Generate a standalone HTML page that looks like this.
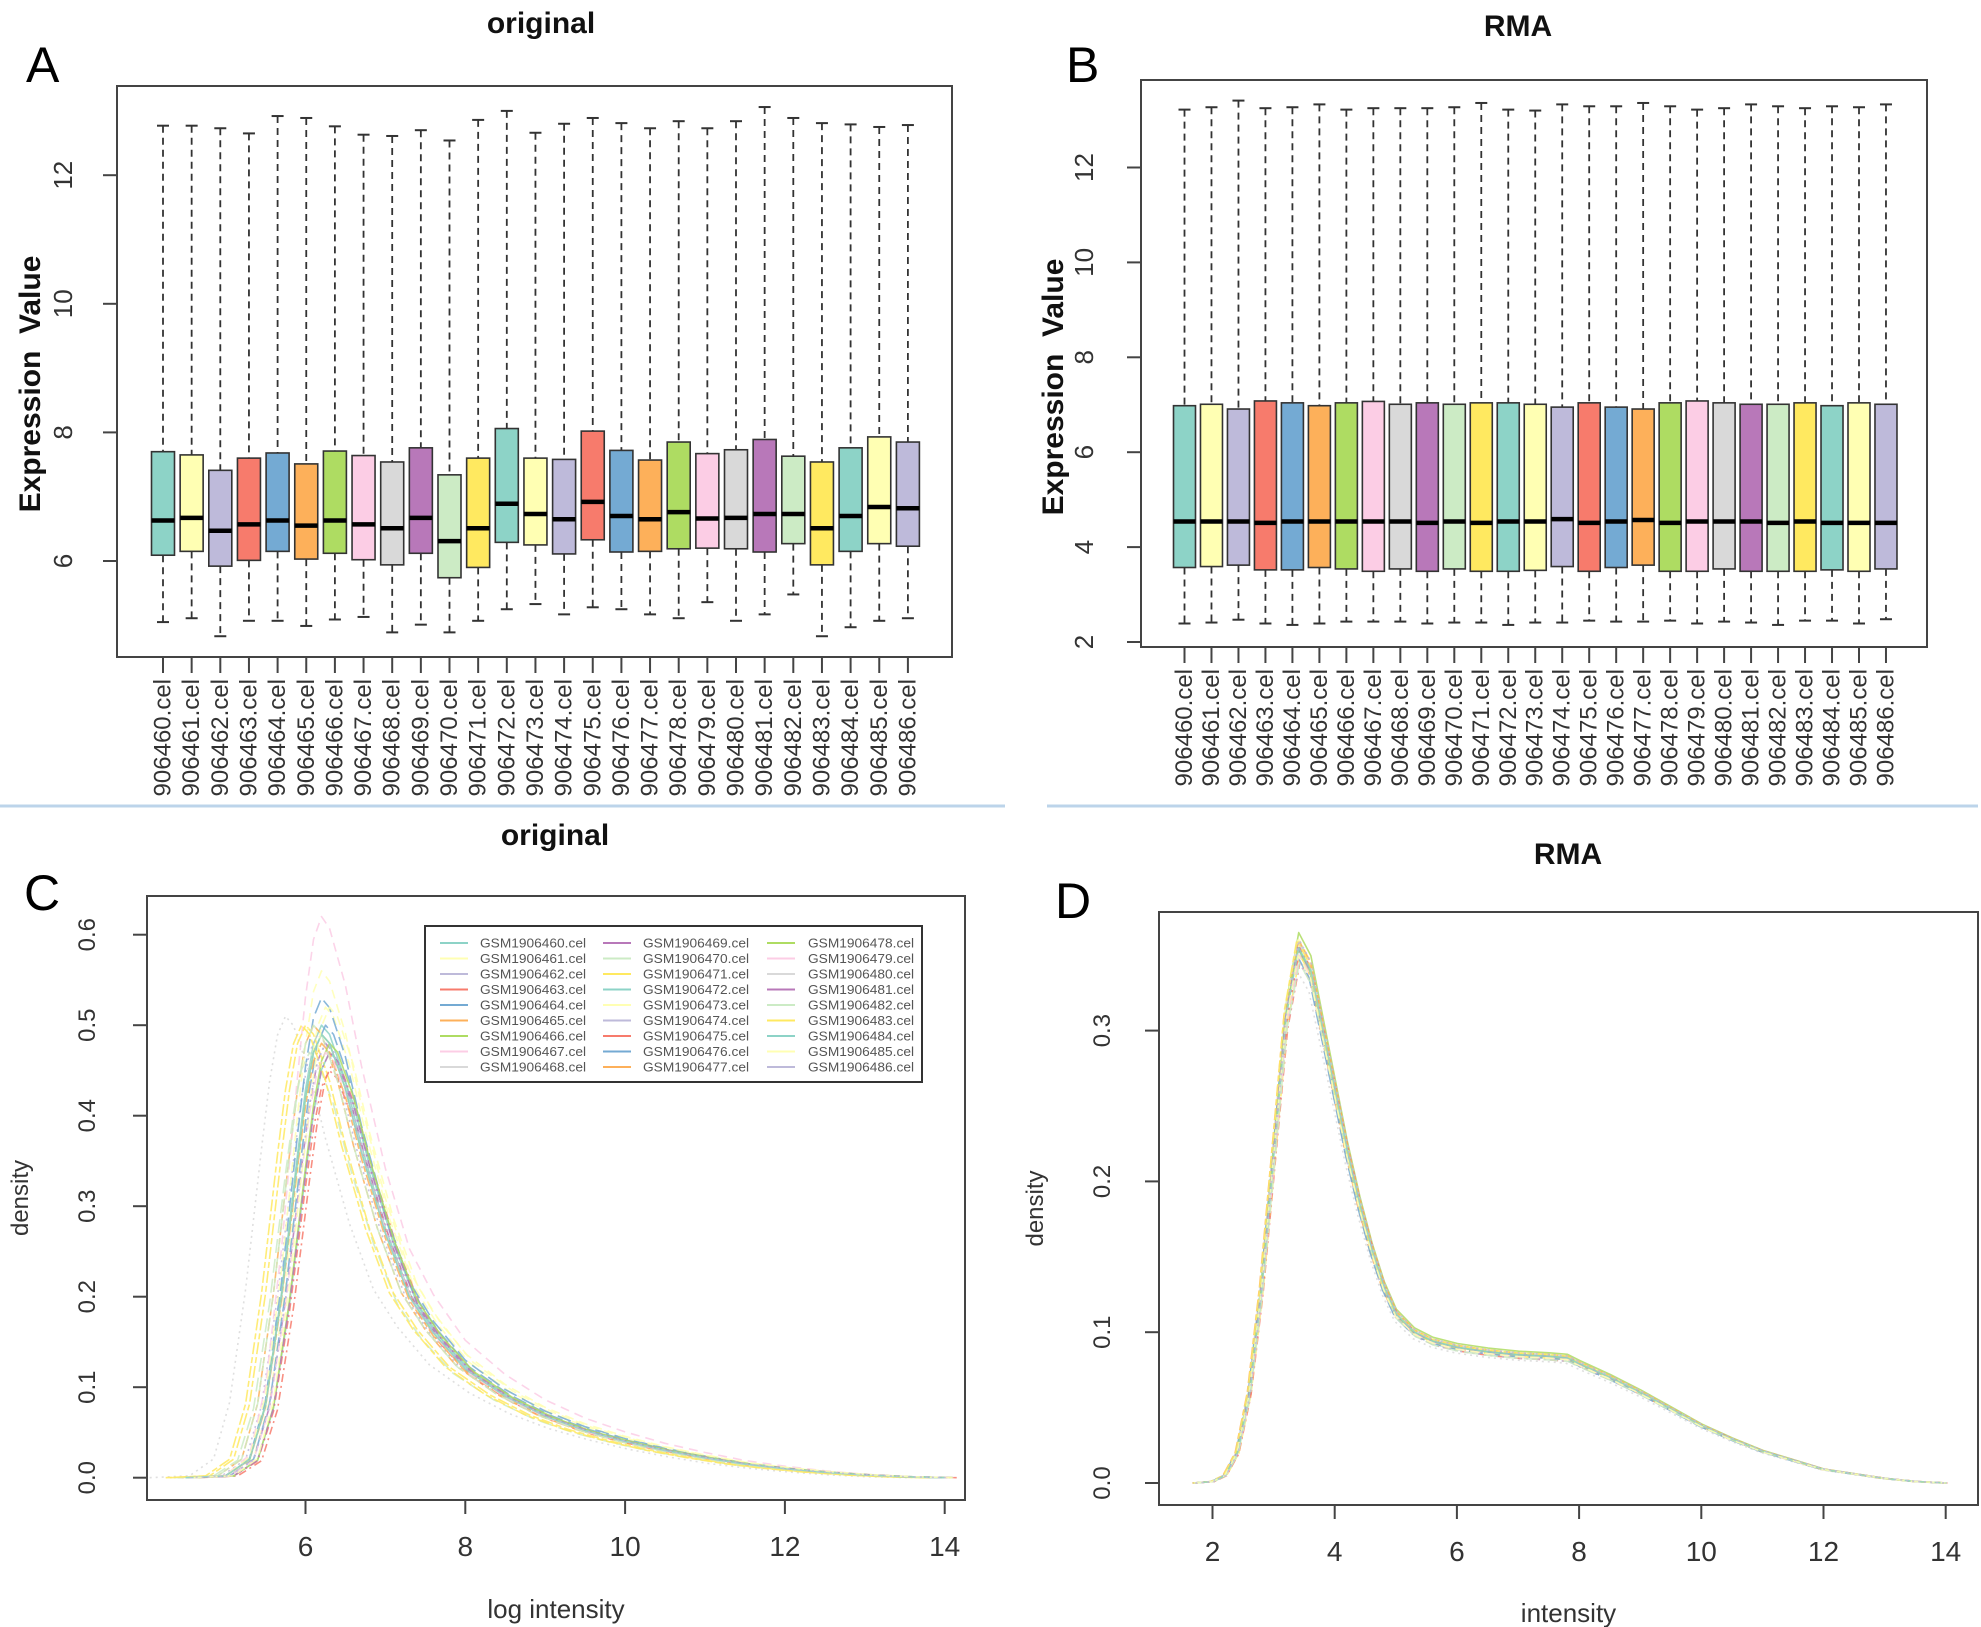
<!DOCTYPE html>
<html><head><meta charset="utf-8"><style>
html,body{margin:0;padding:0;background:#fff}
svg{display:block;font-family:"Liberation Sans",Arial,sans-serif}
</style></head><body>
<svg id="fig" width="1981" height="1627" viewBox="0 0 1981 1627" xmlns="http://www.w3.org/2000/svg">
<rect width="1981" height="1627" fill="#fff"/>
<line x1="0" y1="806" x2="1005" y2="806" stroke="#bcd4ea" stroke-width="3"/>
<line x1="1047" y1="806" x2="1978" y2="806" stroke="#bcd4ea" stroke-width="3"/>
<g id="g"></g>
</svg>
<script>
// ---- data: panel A (original boxplots)
const samples = ["906460","906461","906462","906463","906464","906465","906466","906467","906468","906469","906470","906471","906472","906473","906474","906475","906476","906477","906478","906479","906480","906481","906482","906483","906484","906485","906486"];
const setColors = ["#8dd3c7","#ffffb3","#bebada","#f77b6c","#74aad3","#fdb05a","#aedc62","#fccde5","#d9d9d9","#b878b9","#ccebc5","#ffe960"];
const aHi = [12.77,12.77,12.73,12.65,12.92,12.89,12.76,12.63,12.61,12.70,12.54,12.86,13.00,12.66,12.80,12.89,12.81,12.73,12.84,12.73,12.84,13.06,12.89,12.81,12.79,12.75,12.78];
const aQ3 = [7.70,7.65,7.41,7.60,7.68,7.51,7.71,7.64,7.54,7.76,7.34,7.60,8.06,7.60,7.58,8.02,7.72,7.57,7.85,7.67,7.73,7.89,7.63,7.54,7.76,7.93,7.85];
const aMed = [6.63,6.67,6.47,6.57,6.63,6.55,6.63,6.57,6.51,6.67,6.31,6.51,6.89,6.73,6.65,6.92,6.70,6.65,6.76,6.66,6.67,6.73,6.73,6.51,6.70,6.84,6.82];
const aQ1 = [6.09,6.15,5.92,6.01,6.15,6.03,6.12,6.02,5.94,6.12,5.74,5.90,6.29,6.25,6.11,6.33,6.14,6.15,6.19,6.20,6.19,6.14,6.27,5.94,6.15,6.27,6.23];
const aLo = [5.05,5.11,4.83,5.07,5.07,4.99,5.09,5.13,4.89,5.01,4.89,5.07,5.25,5.33,5.17,5.28,5.25,5.17,5.11,5.36,5.07,5.17,5.48,4.83,4.97,5.07,5.11];
const aTicks = [6,8,10,12];
// ---- data: panel B (RMA boxplots)
const bHi = [13.22,13.27,13.41,13.25,13.27,13.33,13.22,13.25,13.25,13.25,13.27,13.36,13.22,13.20,13.33,13.29,13.29,13.36,13.29,13.22,13.25,13.33,13.29,13.25,13.29,13.27,13.33];
const bQ3 = [6.98,7.01,6.91,7.08,7.04,6.98,7.04,7.07,7.01,7.04,7.01,7.04,7.04,7.01,6.95,7.04,6.95,6.91,7.04,7.08,7.04,7.01,7.01,7.04,6.98,7.04,7.01];
const bMed = [4.54,4.54,4.54,4.51,4.54,4.54,4.54,4.54,4.54,4.51,4.54,4.51,4.54,4.54,4.59,4.51,4.54,4.57,4.51,4.54,4.54,4.54,4.51,4.54,4.51,4.51,4.51];
const bQ1 = [3.57,3.59,3.62,3.52,3.52,3.57,3.54,3.49,3.54,3.49,3.54,3.49,3.49,3.51,3.59,3.49,3.57,3.62,3.49,3.49,3.54,3.49,3.49,3.49,3.52,3.49,3.54];
const bLo = [2.39,2.41,2.47,2.39,2.36,2.39,2.43,2.43,2.43,2.39,2.41,2.41,2.36,2.41,2.41,2.45,2.43,2.43,2.45,2.39,2.43,2.41,2.36,2.45,2.45,2.39,2.48];
const bTicks = [2,4,6,8,10,12];
// ---- data: panel C (original density)
const cGridX = [4.5,5.0,5.3,5.5,5.7,5.9,6.0,6.1,6.2,6.3,6.5,6.7,7.0,7.3,7.6,8.0,8.5,9.0,9.5,10,10.5,11,11.5,12,12.5,13,13.5,14];
const cBaseY = [0,0.002,0.02,0.08,0.2,0.35,0.42,0.47,0.49,0.48,0.43,0.36,0.27,0.2,0.16,0.12,0.09,0.068,0.052,0.04,0.03,0.022,0.015,0.01,0.006,0.003,0.001,0];
const cShift = [0,0.05,-0.05,0.15,0,-0.1,0,0,-0.45,0.05,-0.15,-0.2,0.1,0,0.05,0.1,0.05,0,0.1,0.05,0,0.1,-0.1,-0.25,0,0.1,0.05];
const cPeak = [0.50,0.52,0.49,0.46,0.53,0.50,0.49,0.62,0.51,0.48,0.47,0.50,0.47,0.56,0.48,0.45,0.50,0.48,0.48,0.47,0.49,0.47,0.50,0.50,0.49,0.52,0.48];
const cXTicks = [6,8,10,12,14];
const cYTicks = [0,0.1,0.2,0.3,0.4,0.5,0.6];
// ---- data: panel D (RMA density)
const dGridX = [1.7,2.0,2.2,2.4,2.6,2.8,3.0,3.2,3.4,3.6,3.8,4.0,4.2,4.4,4.6,4.8,5.0,5.3,5.6,6,6.5,7,7.5,7.8,8,8.5,9,9.5,10,10.5,11,11.5,12,12.5,13,13.5,14];
const dBaseY = [0,0.001,0.005,0.02,0.06,0.13,0.22,0.31,0.355,0.34,0.3,0.26,0.22,0.185,0.155,0.13,0.112,0.1,0.094,0.09,0.087,0.085,0.084,0.083,0.079,0.07,0.06,0.049,0.038,0.029,0.021,0.015,0.009,0.006,0.003,0.001,0];
const dShift = [0,0.02,-0.02,0.03,0,-0.03,0.01,0,-0.02,0.02,0,0.03,-0.01,0,0.02,0.03,-0.02,0.01,0,0.02,-0.01,0,0.02,-0.02,0.01,0,0.02];
const dPeak = [0.355,0.36,0.35,0.345,0.36,0.355,0.365,0.35,0.34,0.355,0.36,0.35,0.355,0.36,0.345,0.355,0.35,0.36,0.355,0.35,0.36,0.355,0.345,0.36,0.355,0.35,0.36];
const dXTicks = [2,4,6,8,10,12,14];
const dYTicks = [0,0.1,0.2,0.3];

const NS="http://www.w3.org/2000/svg";
const root=document.getElementById('g');
function el(tag,attrs,parent,txt){const e=document.createElementNS(NS,tag);for(const k in attrs)e.setAttribute(k,attrs[k]);if(txt!==undefined)e.textContent=txt;(parent||root).appendChild(e);return e;}
const dashes=["none","9,6","2,4","2,4,8,4","14,6","6,3,12,3"];

function text(x,y,s,size,opts,name){
  const t=el('text',{x:x,y:y,'font-size':size,'text-anchor':(opts&&opts.anchor)||'middle',fill:(opts&&opts.fill)||'#222','font-weight':(opts&&opts.bold)?'bold':'normal'},root,s);
  if(opts&&opts.rot) t.setAttribute('transform','rotate(-90 '+x+' '+y+')');
  if(opts&&opts.db) t.setAttribute('dominant-baseline',opts.db);
  
  
  return t;
}

function boxPanel(cfg){
  const frame=el('rect',{x:cfg.L,y:cfg.T,width:cfg.R-cfg.L,height:cfg.B-cfg.T,fill:'none',stroke:'#444','stroke-width':2});
  
  
  const ys=v=>cfg.y0-(v-cfg.v0)*cfg.unit;
  const xs=i=>cfg.x0+i*cfg.step;
  cfg.ticks.forEach(t=>{
    const tk=el('line',{x1:cfg.L,x2:cfg.L-14,y1:ys(t),y2:ys(t),stroke:'#444','stroke-width':2});
    
    
    text(cfg.tickLabX,ys(t),String(t),26,{rot:true,fill:'#333'},cfg.id+'-y-tick-label');
  });
  samples.forEach((s,i)=>{
    const x=xs(i),w=cfg.bw,c=setColors[i%12];
    const g=el('g',{});
    
    
    el('line',{x1:x,x2:x,y1:ys(cfg.hi[i]),y2:ys(cfg.q3[i]),stroke:'#333','stroke-width':1.8,'stroke-dasharray':'7,5'},g);
    el('line',{x1:x,x2:x,y1:ys(cfg.q1[i]),y2:ys(cfg.lo[i]),stroke:'#333','stroke-width':1.8,'stroke-dasharray':'7,5'},g);
    el('line',{x1:x-6,x2:x+6,y1:ys(cfg.hi[i]),y2:ys(cfg.hi[i]),stroke:'#333','stroke-width':2},g);
    el('line',{x1:x-6,x2:x+6,y1:ys(cfg.lo[i]),y2:ys(cfg.lo[i]),stroke:'#333','stroke-width':2},g);
    el('rect',{x:x-w/2,y:ys(cfg.q3[i]),width:w,height:ys(cfg.q1[i])-ys(cfg.q3[i]),fill:c,stroke:'#333','stroke-width':1.6},g);
    el('line',{x1:x-w/2,x2:x+w/2,y1:ys(cfg.med[i]),y2:ys(cfg.med[i]),stroke:'#000','stroke-width':4.5},g);
    const tk=el('line',{x1:x,x2:x,y1:cfg.B,y2:cfg.B+16,stroke:'#444','stroke-width':2});
    
    
    text(x,cfg.B+22,s+'.cel',24,{rot:true,anchor:'end',fill:'#333',db:'central'},cfg.id+'-x-label');
  });
  const yl=text(cfg.ylabX,cfg.ylabY,'Expression  Value',30,{rot:true,bold:true,fill:'#111'},cfg.id+'-y-axis-title');
  yl.setAttribute('style','white-space:pre');
  text(cfg.titleX,cfg.titleY,cfg.title,30,{bold:true,fill:'#111'},cfg.id+'-title');
  text(cfg.letX,cfg.letY,cfg.letter,50,{anchor:'start',fill:'#000'},cfg.id+'-panel-letter');
}

boxPanel({id:'panel-a',L:117,R:952,T:86,B:657,y0:561,v0:6,unit:64.3,x0:163,step:28.65,bw:23,ticks:aTicks,tickLabX:72,
  hi:aHi,q3:aQ3,med:aMed,q1:aQ1,lo:aLo,ylabX:40,ylabY:384,title:'original',titleX:541,titleY:33,letter:'A',letX:26,letY:82});
boxPanel({id:'panel-b',L:1141,R:1927,T:80,B:647,y0:642,v0:2,unit:47.45,x0:1184.5,step:26.98,bw:22,ticks:bTicks,tickLabX:1093,
  hi:bHi,q3:bQ3,med:bMed,q1:bQ1,lo:bLo,ylabX:1063,ylabY:387,title:'RMA',titleX:1518,titleY:36,letter:'B',letX:1066,letY:82});

function densPanel(cfg){
  const frame=el('rect',{x:cfg.L,y:cfg.T,width:cfg.R-cfg.L,height:cfg.B-cfg.T,fill:'none',stroke:'#444','stroke-width':2});
  
  
  const xs=v=>cfg.xa+(v-cfg.xv)*cfg.xu;
  const ys=v=>cfg.ya-v*cfg.yu;
  cfg.xt.forEach(t=>{
    const tk=el('line',{x1:xs(t),x2:xs(t),y1:cfg.B,y2:cfg.B+14,stroke:'#444','stroke-width':2});
    
    
    text(xs(t),cfg.B+56,String(t),28,{fill:'#333'},cfg.id+'-x-tick-label');
  });
  cfg.yt.forEach(t=>{
    const tk=el('line',{x1:cfg.L,x2:cfg.L-14,y1:ys(t),y2:ys(t),stroke:'#444','stroke-width':2});
    
    
    text(cfg.tickLabX,ys(t),t.toFixed(1),24,{rot:true,fill:'#333'},cfg.id+'-y-tick-label');
  });
  const bp=Math.max(...cfg.by);
  samples.forEach((s,i)=>{
    let d='';
    cfg.gx.forEach((gx,j)=>{
      const px=xs(gx+cfg.sh[i]), py=ys(cfg.by[j]*cfg.pk[i]/bp);
      d+=(j?'L':'M')+px.toFixed(1)+' '+py.toFixed(1);
    });
    const p=el('path',{d:d,fill:'none',stroke:setColors[i%12],'stroke-width':1.6,'stroke-opacity':0.85,'stroke-dasharray':dashes[i%6],'stroke-linejoin':'round'});
    
    
  });
  text(cfg.titleX,cfg.titleY,cfg.title,30,{bold:true,fill:'#111'},cfg.id+'-title');
  text(cfg.letX,cfg.letY,cfg.letter,50,{anchor:'start',fill:'#000'},cfg.id+'-panel-letter');
  text((cfg.L+cfg.R)/2,cfg.xlabY,cfg.xlab,26,{fill:'#333'},cfg.id+'-x-axis-title');
  text(cfg.ylabX,(cfg.T+cfg.B)/2,'density',24,{rot:true,fill:'#333'},cfg.id+'-y-axis-title');
}
densPanel({id:'panel-c',L:147,R:965,T:896,B:1500,xa:305.5,xv:6,xu:79.9,ya:1477.7,yu:905,xt:cXTicks,yt:cYTicks,tickLabX:95,
  gx:cGridX,by:cBaseY,sh:cShift,pk:cPeak,title:'original',titleX:555,titleY:845,letter:'C',letX:24,letY:910,xlab:'log intensity',xlabY:1618,ylabX:28});
densPanel({id:'panel-d',L:1159,R:1978,T:912,B:1505,xa:1212.5,xv:2,xu:61.1,ya:1483,yu:1508,xt:dXTicks,yt:dYTicks,tickLabX:1110,
  gx:dGridX,by:dBaseY,sh:dShift,pk:dPeak,title:'RMA',titleX:1568,titleY:864,letter:'D',letX:1055,letY:918,xlab:'intensity',xlabY:1622,ylabX:1043});

// legend for panel C
const lg=el('g',{});


el('rect',{x:425,y:926,width:497,height:156,fill:'#fff',stroke:'#333','stroke-width':2},lg);
const colLine=[440,603,767], colText=[480,643,808];
samples.forEach((s,i)=>{
  const c=Math.floor(i/9), r=i%9, y=943+r*15.5;
  const e=el('g',{},lg);
  
  
  el('line',{x1:colLine[c],x2:colLine[c]+28,y1:y,y2:y,stroke:setColors[i%12],'stroke-width':2},e);
  el('text',{x:colText[c],y:y+4.5,'font-size':13,fill:'#555',textLength:106,lengthAdjust:'spacingAndGlyphs'},e,'GSM1'+s+'.cel');
});
</script>
</body></html>
